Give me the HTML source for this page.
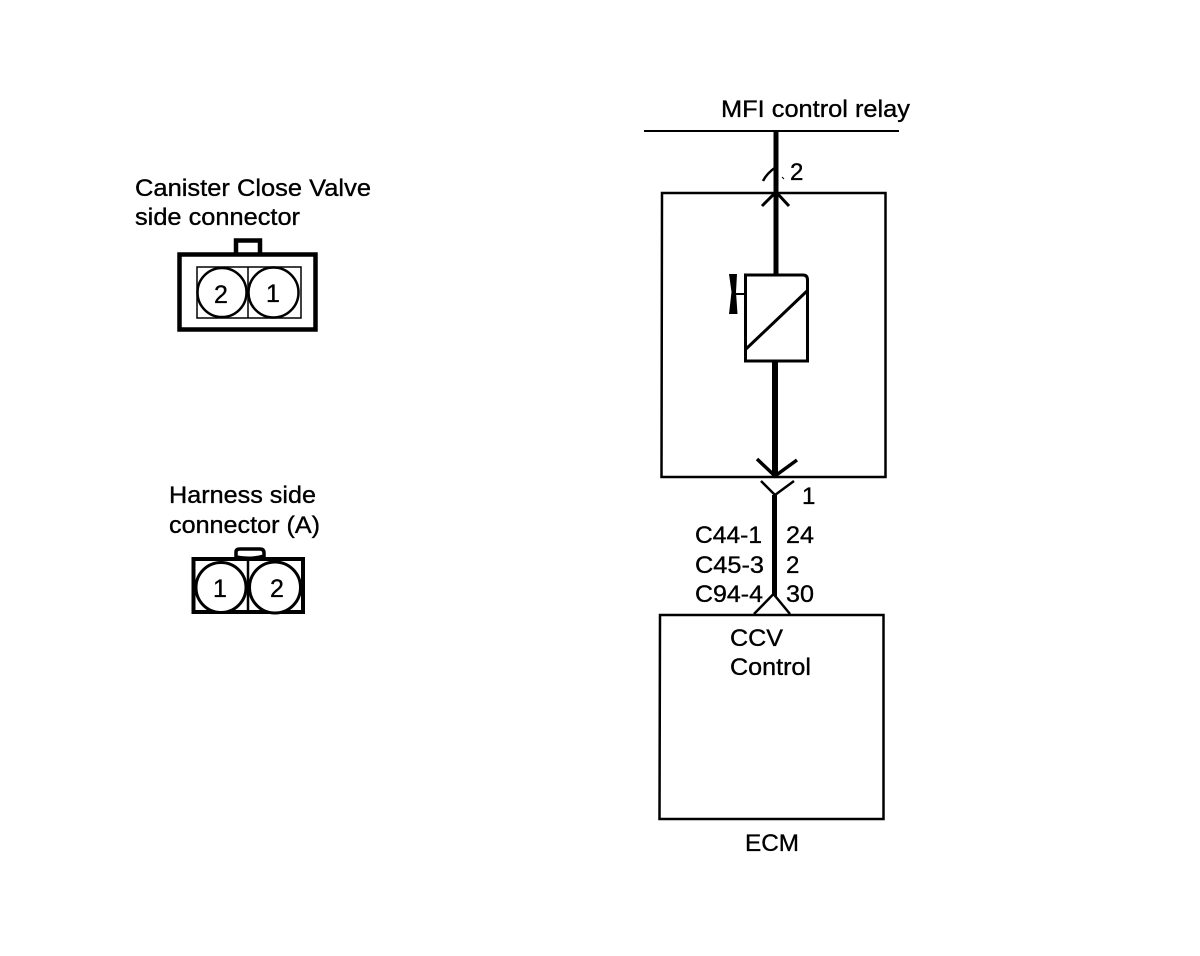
<!DOCTYPE html>
<html>
<head>
<meta charset="utf-8">
<style>
html,body{margin:0;padding:0;background:#fff;}
svg{display:block;}
text{font-family:"Liberation Sans",sans-serif;font-size:24px;fill:#000;stroke:#000;stroke-width:.35px;}
</style>
</head>
<body>
<svg width="1200" height="956" viewBox="0 0 1200 956" xmlns="http://www.w3.org/2000/svg">
<rect width="1200" height="956" fill="#fff"/>

<!-- Left labels -->
<text x="135" y="196" textLength="236" lengthAdjust="spacingAndGlyphs">Canister Close Valve</text>
<text x="135" y="225" textLength="165" lengthAdjust="spacingAndGlyphs">side connector</text>
<text x="169" y="503" textLength="147" lengthAdjust="spacingAndGlyphs">Harness side</text>
<text x="169" y="533" textLength="151" lengthAdjust="spacingAndGlyphs">connector (A)</text>

<!-- Canister connector -->
<g fill="none" stroke="#000">
  <rect x="179.500" y="254.500" width="136" height="75" stroke-width="4.500"/>
  <path d="M236 253 V240.500 H260 V253" stroke-width="4.500"/>
  <rect x="197" y="267" width="104" height="51" stroke-width="1.500"/>
  <line x1="248" y1="267" x2="248" y2="318" stroke-width="1.500"/>
  <circle cx="222" cy="292.500" r="24.500" stroke-width="2.500"/>
  <circle cx="273.500" cy="292.500" r="25" stroke-width="2.500"/>
</g>
<text x="214" y="303" style="font-size:25px">2</text>
<text x="266" y="302" style="font-size:25px">1</text>

<!-- Harness connector -->
<g fill="none" stroke="#000">
  <path d="M193.500 559 H303 V612 H193.500 Z" stroke-width="4"/>
  <path d="M236 558 V552 Q236 549 240 549 H260 Q264 549 264 553 V556 Q250 560 236 557" stroke-width="3.500"/>
  <line x1="248" y1="558" x2="248" y2="613" stroke-width="2.500"/>
  <circle cx="221" cy="587.500" r="25" stroke-width="3" fill="#fff"/>
  <circle cx="275" cy="587.500" r="25.500" stroke-width="3" fill="#fff"/>
</g>
<text x="213" y="597" style="font-size:25px">1</text>
<text x="270" y="597" style="font-size:25px">2</text>

<!-- Relay line -->
<text x="721" y="117" textLength="189" lengthAdjust="spacingAndGlyphs">MFI control relay</text>
<line x1="644" y1="131" x2="899" y2="131" stroke="#000" stroke-width="2"/>

<!-- Component box -->
<g fill="none" stroke="#000">
  <path d="M662 193 H885.500 V477 H661.500 Z" stroke-width="2.500"/>
  <line x1="776" y1="131" x2="776" y2="275" stroke-width="5"/>
  <line x1="775" y1="362" x2="775" y2="478" stroke-width="6"/>
  <!-- top connector marks -->
  <path d="M763 181 Q767 173 776 167" stroke-width="2.500"/>
  <path d="M762 206 L776 192 L789 206" stroke-width="3"/>
  <path d="M782 177 L784 179" stroke-width="1"/>
  <!-- bottom connector marks -->
  <path d="M757 459 L775 476 L797 460" stroke-width="3.500"/>
  <path d="M761 481 L775 495 L794 481" stroke-width="2.500"/>
  <line x1="774.500" y1="495" x2="774.500" y2="596" stroke-width="5"/>
  <!-- Coil -->
  <path d="M745.500 275 H803 Q807.500 275 807.500 280 V361 H745.500 Z" stroke-width="3"/>
  <line x1="746" y1="349" x2="807" y2="291" stroke-width="3"/>
  <line x1="734" y1="294" x2="745" y2="294" stroke-width="2"/>
</g>
<path d="M729 274 H737 L736 292 L737.500 314 H729 L731.500 292 Z" fill="#000"/>

<!-- Pin labels -->
<text x="790" y="180">2</text>
<text x="802" y="504">1</text>
<text x="695" y="543" textLength="67" lengthAdjust="spacingAndGlyphs">C44-1</text>
<text x="786" y="543" textLength="28" lengthAdjust="spacingAndGlyphs">24</text>
<text x="695" y="573" textLength="69" lengthAdjust="spacingAndGlyphs">C45-3</text>
<text x="786" y="573">2</text>
<text x="695" y="602" textLength="68" lengthAdjust="spacingAndGlyphs">C94-4</text>
<text x="786" y="602" textLength="28" lengthAdjust="spacingAndGlyphs">30</text>

<!-- ECM box -->
<path d="M754 614 L773.500 594 L790 614" fill="none" stroke="#000" stroke-width="2.500"/>
<path d="M660 615 H883.500 V819 H659.500 Z" fill="none" stroke="#000" stroke-width="2.500"/>
<text x="730" y="646" textLength="53" lengthAdjust="spacingAndGlyphs">CCV</text>
<text x="730" y="675" textLength="81" lengthAdjust="spacingAndGlyphs">Control</text>
<text x="745" y="851" textLength="54" lengthAdjust="spacingAndGlyphs">ECM</text>
</svg>
</body>
</html>
